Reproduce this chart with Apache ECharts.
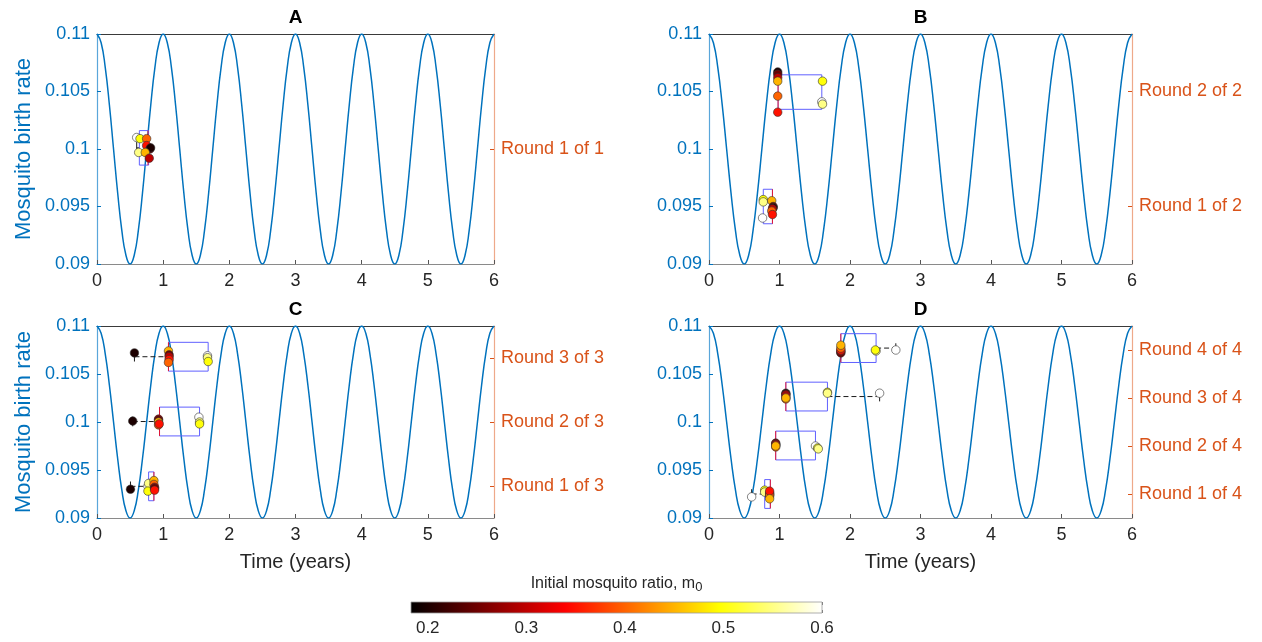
<!DOCTYPE html>
<html>
<head>
<meta charset="utf-8">
<script src="https://cdn.jsdelivr.net/npm/echarts@6/dist/echarts.min.js"></script>
<style>
html,body{margin:0;padding:0;background:#fff;}
#chart{width:1262px;height:642px;}
</style>
</head>
<body>
<div id="chart"></div>
<script>
// ---------------- DATA ----------------
// Mosquito birth rate curve, sampled every 1/16 year from t = 0 to t = 6
const sampleStep = 1 / 16;
const birthRate = [
  0.11, 0.10924, 0.10707, 0.10383, 0.1, 0.09617, 0.09293, 0.09076, 0.09, 0.09076, 0.09293, 0.09617, 0.1, 0.10383, 0.10707, 0.10924,
  0.11, 0.10924, 0.10707, 0.10383, 0.1, 0.09617, 0.09293, 0.09076, 0.09, 0.09076, 0.09293, 0.09617, 0.1, 0.10383, 0.10707, 0.10924,
  0.11, 0.10924, 0.10707, 0.10383, 0.1, 0.09617, 0.09293, 0.09076, 0.09, 0.09076, 0.09293, 0.09617, 0.1, 0.10383, 0.10707, 0.10924,
  0.11, 0.10924, 0.10707, 0.10383, 0.1, 0.09617, 0.09293, 0.09076, 0.09, 0.09076, 0.09293, 0.09617, 0.1, 0.10383, 0.10707, 0.10924,
  0.11, 0.10924, 0.10707, 0.10383, 0.1, 0.09617, 0.09293, 0.09076, 0.09, 0.09076, 0.09293, 0.09617, 0.1, 0.10383, 0.10707, 0.10924,
  0.11, 0.10924, 0.10707, 0.10383, 0.1, 0.09617, 0.09293, 0.09076, 0.09, 0.09076, 0.09293, 0.09617, 0.1, 0.10383, 0.10707, 0.10924,
  0.11
];

const panelTitles = ['A', 'B', 'C', 'D'];
const roundCounts = [1, 2, 3, 4];
const yTickMin = 0.09, yTickMax = 0.11, yTickStep = 0.005;
const xTickMin = 0, xTickMax = 6, xTickStep = 1;
const colorbarTicks = [0.2, 0.3, 0.4, 0.5, 0.6];
const m0Min = 0.183, m0Max = 0.6;

// points: [time (years), birth rate position, initial mosquito ratio m0]
const pointsA = [
  [0.60, 0.1010, 0.60], [0.65, 0.1009, 0.50], [0.75, 0.1009, 0.40], [0.75, 0.1003, 0.35],
  [0.80, 0.1000, 0.25], [0.81, 0.1001, 0.20], [0.63, 0.0997, 0.55], [0.73, 0.0997, 0.45],
  [0.79, 0.0992, 0.30]
];
const pointsB = [
  // round 1
  [0.77, 0.0956, 0.50], [0.77, 0.0954, 0.55], [0.76, 0.0940, 0.60], [0.89, 0.0955, 0.45],
  [0.91, 0.0950, 0.25], [0.91, 0.0949, 0.20], [0.90, 0.0948, 0.30], [0.89, 0.0946, 0.40],
  [0.90, 0.0943, 0.35],
  // round 2
  [0.975, 0.1067, 0.20], [0.975, 0.1065, 0.25], [0.975, 0.1062, 0.30], [0.975, 0.1059, 0.45],
  [0.975, 0.1046, 0.40], [0.975, 0.1032, 0.35], [1.61, 0.1059, 0.50], [1.60, 0.1041, 0.60],
  [1.61, 0.1039, 0.55]
];
const pointsC = [
  // round 1
  [0.506, 0.0930, 0.20], [0.77, 0.0933, 0.60], [0.78, 0.0936, 0.55], [0.77, 0.0928, 0.50],
  [0.86, 0.0939, 0.45], [0.86, 0.0935, 0.40], [0.87, 0.0932, 0.30], [0.87, 0.0931, 0.25],
  [0.87, 0.0929, 0.35],
  // round 2
  [0.54, 0.1001, 0.20], [0.93, 0.1003, 0.30], [0.93, 0.1002, 0.25], [0.93, 0.1000, 0.45],
  [0.93, 0.0997, 0.40], [0.94, 0.0998, 0.35], [1.54, 0.1005, 0.60], [1.55, 0.1000, 0.55],
  [1.55, 0.0998, 0.50],
  // round 3
  [0.566, 0.1072, 0.20], [1.08, 0.1074, 0.45], [1.09, 0.1070, 0.25], [1.09, 0.1068, 0.30],
  [1.09, 0.1065, 0.35], [1.08, 0.1062, 0.40], [1.67, 0.1069, 0.60], [1.67, 0.1067, 0.55],
  [1.68, 0.1063, 0.50]
];
const pointsD = [
  // round 1
  [0.605, 0.0922, 0.60], [0.79, 0.0929, 0.50], [0.79, 0.0927, 0.55], [0.86, 0.0926, 0.30],
  [0.86, 0.0925, 0.25], [0.86, 0.0923, 0.20], [0.86, 0.0924, 0.40], [0.86, 0.0928, 0.35],
  [0.86, 0.0920, 0.45],
  // round 2
  [0.946, 0.0978, 0.25], [0.946, 0.0977, 0.30], [0.946, 0.0976, 0.20], [0.946, 0.0976, 0.35],
  [0.946, 0.0974, 0.40], [0.946, 0.0975, 0.45], [1.51, 0.0975, 0.60], [1.54, 0.0973, 0.50],
  [1.55, 0.0972, 0.55],
  // round 3
  [1.09, 0.1030, 0.20], [1.09, 0.1029, 0.25], [1.09, 0.1028, 0.30], [1.09, 0.1026, 0.35],
  [1.09, 0.1024, 0.40], [1.09, 0.1025, 0.45], [1.68, 0.1031, 0.50], [1.68, 0.1030, 0.55],
  [2.42, 0.1030, 0.60],
  // round 4
  [1.87, 0.1073, 0.20], [1.87, 0.1072, 0.25], [1.87, 0.1074, 0.30], [1.87, 0.1075, 0.35],
  [1.87, 0.1077, 0.40], [1.87, 0.1080, 0.45], [2.37, 0.1074, 0.55], [2.36, 0.1075, 0.50],
  [2.65, 0.1075, 0.60]
];

// boxes: [q1, q3, median, centre rate, whisker low, whisker high]
const boxesA = [[0.64, 0.78, 0.77, 0.1001, 0.60, 0.78]];
const boxesB = [
  [0.77, 0.90, 0.90, 0.0950, 0.77, 0.90],
  [0.98, 1.60, 0.98, 0.10495, 0.98, 1.60]
];
const boxesC = [
  [0.78, 0.86, 0.86, 0.0933, 0.506, 0.86],
  [0.945, 1.55, 0.945, 0.10005, 0.54, 1.55],
  [1.08, 1.68, 1.08, 0.1068, 0.566, 1.68]
];
const boxesD = [
  [0.79, 0.87, 0.87, 0.0925, 0.605, 0.87],
  [0.946, 1.51, 0.946, 0.09755, 0.946, 1.51],
  [1.09, 1.68, 1.09, 0.10265, 1.09, 2.42],
  [1.87, 2.37, 1.87, 0.1077, 1.87, 2.65]
];

const allPoints = [pointsA, pointsB, pointsC, pointsD];
const allBoxes = [boxesA, boxesB, boxesC, boxesD];

// ---------------- STYLE / LAYOUT ----------------
const FONT = '"Liberation Sans", Arial, Helvetica, sans-serif';
const BLUE = '#0072BD', ORANGE = '#D95319', TXT = '#262626';
const hot = ['#000000', '#550000', '#aa0000', '#ff0000', '#ff5500', '#ffaa00', '#ffff00', '#ffff80', '#ffffff'];
const grids = [
  {left: 97, top: 34, width: 397, height: 230},
  {left: 709, top: 34, width: 423, height: 230},
  {left: 97, top: 326, width: 397, height: 192},
  {left: 709, top: 326, width: 423, height: 192},
  {left: 411, top: 602, width: 411, height: 11}
];
const BOX_HALF = 0.0015;
const CAP_HALF = 0.0005;

function renderBox(params, api) {
  const q1 = api.value(0), q3 = api.value(1), med = api.value(2), yc = api.value(3), lo = api.value(4), hi = api.value(5);
  const tl = api.coord([q1, yc + BOX_HALF]);
  const br = api.coord([q3, yc - BOX_HALF]);
  const children = [];
  const dashStyle = {stroke: '#1a1a1a', lineWidth: 1, lineDash: [5, 3], fill: null};
  const capStyle = {stroke: '#1a1a1a', lineWidth: 1, fill: null};
  if (lo < q1) {
    const a = api.coord([lo, yc]), b = api.coord([q1, yc]);
    children.push({type: 'line', shape: {x1: a[0], y1: a[1], x2: b[0], y2: b[1]}, style: dashStyle});
    const c1 = api.coord([lo, yc + CAP_HALF]), c2 = api.coord([lo, yc - CAP_HALF]);
    children.push({type: 'line', shape: {x1: c1[0], y1: c1[1], x2: c2[0], y2: c2[1]}, style: capStyle});
  }
  if (hi > q3) {
    const a = api.coord([q3, yc]), b = api.coord([hi, yc]);
    children.push({type: 'line', shape: {x1: a[0], y1: a[1], x2: b[0], y2: b[1]}, style: dashStyle});
    const c1 = api.coord([hi, yc + CAP_HALF]), c2 = api.coord([hi, yc - CAP_HALF]);
    children.push({type: 'line', shape: {x1: c1[0], y1: c1[1], x2: c2[0], y2: c2[1]}, style: capStyle});
  }
  children.push({type: 'rect', shape: {x: tl[0], y: tl[1], width: br[0] - tl[0], height: br[1] - tl[1]},
    style: {fill: null, stroke: '#6060ff', lineWidth: 1}});
  const m1 = api.coord([med, yc + BOX_HALF]), m2 = api.coord([med, yc - BOX_HALF]);
  children.push({type: 'line', shape: {x1: m1[0], y1: m1[1], x2: m2[0], y2: m2[1]}, style: {stroke: '#ff0000', lineWidth: 1, opacity: 0.8}});
  return {type: 'group', children: children};
}

const xAxes = [], yAxes = [], series = [];
for (let i = 0; i < 4; i++) {
  xAxes.push({
    gridIndex: i, type: 'value', min: xTickMin, max: xTickMax, interval: xTickStep, position: 'bottom',
    axisLine: {show: true, onZero: false, lineStyle: {color: '#8a8a8a', width: 1.2}},
    axisTick: {show: true, inside: true, length: 4, lineStyle: {color: '#555'}},
    axisLabel: {color: TXT, fontSize: 18, fontFamily: FONT, margin: 8},
    splitLine: {show: false},
    name: i >= 2 ? 'Time (years)' : '', nameLocation: 'middle', nameGap: 34,
    nameTextStyle: {color: TXT, fontSize: 20, fontFamily: FONT}
  });
}
for (let i = 0; i < 4; i++) {
  xAxes.push({
    gridIndex: i, type: 'value', min: xTickMin, max: xTickMax, position: 'top',
    axisLine: {show: true, onZero: false, lineStyle: {color: '#3a3a3a', width: 1}},
    axisTick: {show: false}, axisLabel: {show: false}, splitLine: {show: false},
    name: panelTitles[i], nameLocation: 'middle', nameGap: 7,
    nameTextStyle: {color: '#000', fontSize: 19, fontWeight: 'bold', fontFamily: FONT}
  });
}
xAxes.push({
  gridIndex: 4, type: 'value', min: m0Min, max: m0Max, position: 'bottom',
  axisLine: {show: false, onZero: false},
  axisTick: {show: true, inside: true, length: 3, customValues: colorbarTicks, lineStyle: {color: '#777'}},
  axisLabel: {customValues: colorbarTicks, color: TXT, fontSize: 17, fontFamily: FONT, margin: 7,
    formatter: v => String(Math.round(v * 100) / 100)},
  splitLine: {show: false}
});
xAxes.push({
  gridIndex: 4, type: 'value', min: m0Min, max: m0Max, position: 'top',
  axisLine: {show: false, onZero: false},
  axisTick: {show: true, inside: true, length: 3, customValues: colorbarTicks, lineStyle: {color: '#777'}},
  axisLabel: {show: false}, splitLine: {show: false},
  name: 'Initial mosquito ratio, m{sub|0}', nameLocation: 'middle', nameGap: 8,
  nameTextStyle: {color: TXT, fontSize: 16, fontFamily: FONT,
    rich: {sub: {fontSize: 13, fontFamily: FONT, color: TXT, verticalAlign: 'bottom', padding: [7, 0, 0, 0]}}}
});

for (let i = 0; i < 4; i++) {
  yAxes.push({
    gridIndex: i, type: 'value', min: yTickMin, max: yTickMax, interval: yTickStep, position: 'left',
    axisLine: {show: true, onZero: false, lineStyle: {color: '#5aa6da', width: 1.2}},
    axisTick: {show: true, inside: true, length: 4, lineStyle: {color: BLUE}},
    axisLabel: {color: BLUE, fontSize: 18, fontFamily: FONT, margin: 7},
    splitLine: {show: false},
    name: (i === 0 || i === 2) ? 'Mosquito birth rate' : '', nameLocation: 'middle', nameGap: 62, nameRotate: 90,
    nameTextStyle: {color: BLUE, fontSize: 22, fontFamily: FONT}
  });
}
for (let i = 0; i < 4; i++) {
  const n = roundCounts[i];
  const rounds = [];
  for (let k = 1; k <= n; k++) rounds.push(k);
  yAxes.push({
    gridIndex: i, type: 'value', min: 0.5, max: n + 0.5, position: 'right',
    axisLine: {show: true, onZero: false, lineStyle: {color: '#eea98a', width: 1.2}},
    axisTick: {show: true, inside: true, length: 4, customValues: rounds, lineStyle: {color: ORANGE}},
    axisLabel: {customValues: rounds, color: ORANGE, fontSize: 18, fontFamily: FONT, margin: 7,
      formatter: v => 'Round ' + Math.round(v) + ' of ' + n},
    splitLine: {show: false}
  });
}
yAxes.push({gridIndex: 4, type: 'value', min: 0, max: 1, show: false});

// curves
for (let i = 0; i < 4; i++) {
  series.push({
    type: 'line', xAxisIndex: i, yAxisIndex: i, smooth: true, showSymbol: false, silent: true,
    lineStyle: {color: BLUE, width: 1.5}, z: 1,
    data: birthRate.map((v, k) => [k * sampleStep, v])
  });
}
// boxes
for (let i = 0; i < 4; i++) {
  series.push({
    type: 'custom', xAxisIndex: i, yAxisIndex: i, renderItem: renderBox, z: 2, silent: true,
    data: allBoxes[i]
  });
}
// points
for (let i = 0; i < 4; i++) {
  series.push({
    type: 'scatter', xAxisIndex: i, yAxisIndex: i, symbol: 'circle', symbolSize: 8.5, z: 3,
    itemStyle: {borderColor: '#333', borderWidth: 0.6, opacity: 1},
    data: allPoints[i]
  });
}
// colorbar
series.push({
  type: 'custom', xAxisIndex: 8, yAxisIndex: 8, silent: true,
  data: [[m0Min, m0Max]],
  renderItem: function (params, api) {
    const a = api.coord([api.value(0), 1]), b = api.coord([api.value(1), 0]);
    return {
      type: 'rect', shape: {x: a[0], y: a[1], width: b[0] - a[0], height: b[1] - a[1]},
      style: {
        fill: new echarts.graphic.LinearGradient(0, 0, 1, 0, hot.map((c, k) => ({offset: k / (hot.length - 1), color: c}))),
        stroke: '#999', lineWidth: 0.8
      }
    };
  }
});

const chart = echarts.init(document.getElementById('chart'), null, {renderer: 'canvas'});
chart.setOption({
  animation: false,
  backgroundColor: '#ffffff',
  textStyle: {fontFamily: FONT},
  grid: grids,
  xAxis: xAxes,
  yAxis: yAxes,
  visualMap: {
    type: 'continuous', show: false, min: m0Min, max: m0Max, dimension: 2,
    seriesIndex: [8, 9, 10, 11], inRange: {color: hot}
  },
  series: series
});
</script>
</body>
</html>
